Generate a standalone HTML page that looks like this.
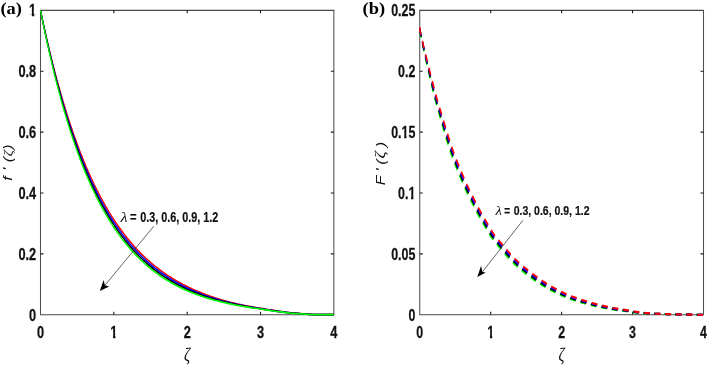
<!DOCTYPE html>
<html lang="en"><head><meta charset="utf-8"><title>Figure</title>
<style>html,body{margin:0;padding:0;background:#fff}svg{display:block}</style></head>
<body>
<svg width="708" height="366" viewBox="0 0 708 366">
<rect width="708" height="366" fill="#fff"/>
<defs><clipPath id="c1m"><path d="M-8 -15 H8 V-1.8 H1.95 V2 H-0.95 V-1.8 H-8 Z"/></clipPath><clipPath id="c1e"><path d="M-40 -15 H1 V-1.8 H-2.5 V2 H-5.4 V-1.8 H-8.9 V4 H-40 Z"/></clipPath><clipPath id="c1e2"><path d="M-40 -15 H1 V4 H-8.9 V-1.8 H-11.4 V2 H-14.3 V-1.8 H-17.8 V4 H-40 Z"/></clipPath></defs>
<g stroke="#3a3a3a" stroke-width="1.25" fill="none">
<path d="M40 10.3 H334.35 M40 314.75 H334.35" stroke="#484848" stroke-width="1.2"/>
<path d="M40.5 10.3 V314.75 M333.85 10.3 V314.75" stroke="#505050" stroke-width="1.05"/>
<path d="M113.84 314.75 v-3.0 M113.84 10.3 v3.0 M187.18 314.75 v-3.0 M187.18 10.3 v3.0 M260.51 314.75 v-3.0 M260.51 10.3 v3.0 M40.5 253.86 h3.0 M333.85 253.86 h-3.0 M40.5 192.97 h3.0 M333.85 192.97 h-3.0 M40.5 132.08 h3.0 M333.85 132.08 h-3.0 M40.5 71.19 h3.0 M333.85 71.19 h-3.0" stroke-width="1.1" stroke="#1a1a1a"/>
</g>
<g stroke="#3a3a3a" stroke-width="1.25" fill="none">
<path d="M419.25 10.3 H704 M419.25 314.75 H704" stroke="#484848" stroke-width="1.2"/>
<path d="M419.75 10.3 V314.75 M703.5 10.3 V314.75" stroke="#505050" stroke-width="1.05"/>
<path d="M490.69 314.75 v-3.0 M490.69 10.3 v3.0 M561.62 314.75 v-3.0 M561.62 10.3 v3.0 M632.56 314.75 v-3.0 M632.56 10.3 v3.0 M419.75 253.86 h3.0 M703.5 253.86 h-3.0 M419.75 192.97 h3.0 M703.5 192.97 h-3.0 M419.75 132.08 h3.0 M703.5 132.08 h-3.0 M419.75 71.19 h3.0 M703.5 71.19 h-3.0" stroke-width="1.1" stroke="#1a1a1a"/>
</g>
<g transform="translate(40.5,0) scale(0.778,1)" fill="none" stroke-width="1.65" stroke-linejoin="round">
<path d="M0 10.3 L2.36 18.94 L4.71 27.35 L7.07 35.51 L9.43 43.45 L11.78 51.16 L14.14 58.66 L16.5 65.94 L18.85 73.03 L21.21 79.91 L23.57 86.6 L25.92 93.1 L28.28 99.42 L30.64 105.56 L32.99 111.53 L35.35 117.33 L37.71 122.96 L40.06 128.44 L42.42 133.77 L44.78 138.94 L47.13 143.97 L49.49 148.86 L51.85 153.61 L54.2 158.23 L56.56 162.72 L58.92 167.08 L61.27 171.32 L63.63 175.44 L65.98 179.45 L68.34 183.34 L70.7 187.12 L73.05 190.8 L75.41 194.37 L77.77 197.84 L80.12 201.22 L82.48 204.5 L84.84 207.69 L87.19 210.79 L89.55 213.8 L91.91 216.73 L94.26 219.57 L96.62 222.34 L98.98 225.02 L101.33 227.63 L103.69 230.17 L106.05 232.64 L108.4 235.04 L110.76 237.37 L113.12 239.63 L115.47 241.83 L117.83 243.97 L120.19 246.05 L122.54 248.07 L124.9 250.04 L127.26 251.94 L129.61 253.8 L131.97 255.6 L134.33 257.35 L136.68 259.06 L139.04 260.71 L141.4 262.32 L143.75 263.89 L146.11 265.41 L148.47 266.88 L150.82 268.32 L153.18 269.71 L155.54 271.07 L157.89 272.39 L160.25 273.67 L162.61 274.91 L164.96 276.12 L167.32 277.3 L169.68 278.44 L172.03 279.55 L174.39 280.63 L176.75 281.68 L179.1 282.7 L181.46 283.69 L183.82 284.65 L186.17 285.59 L188.53 286.5 L190.88 287.41 L193.24 288.3 L195.6 289.16 L197.95 289.99 L200.31 290.8 L202.67 291.59 L205.02 292.36 L207.38 293.1 L209.74 293.82 L212.09 294.53 L214.45 295.21 L216.81 295.87 L219.16 296.51 L221.52 297.14 L223.88 297.74 L226.23 298.33 L228.59 298.9 L230.95 299.46 L233.3 300 L235.66 300.52 L238.02 301.03 L240.37 301.52 L242.73 302 L245.09 302.46 L247.44 302.91 L249.8 303.35 L252.16 303.78 L254.51 304.19 L256.87 304.59 L259.23 304.98 L261.58 305.35 L263.94 305.72 L266.3 306.07 L268.65 306.42 L271.01 306.75 L273.37 307.08 L275.72 307.39 L278.08 307.7 L280.44 307.99 L282.79 308.28 L285.15 308.61 L287.51 308.93 L289.86 309.24 L292.22 309.54 L294.58 309.84 L296.93 310.13 L299.29 310.41 L301.65 310.69 L304 310.96 L306.36 311.22 L308.72 311.48 L311.07 311.74 L313.43 311.98 L315.78 312.22 L318.14 312.46 L320.5 312.69 L322.85 312.86 L325.21 313.03 L327.57 313.19 L329.92 313.34 L332.28 313.49 L334.64 313.64 L336.99 313.78 L339.35 313.92 L341.71 314.05 L344.06 314.18 L346.42 314.31 L348.78 314.43 L351.13 314.55 L353.49 314.63 L355.85 314.63 L358.2 314.63 L360.56 314.63 L362.92 314.63 L365.27 314.63 L367.63 314.63 L369.99 314.63 L372.34 314.63 L374.7 314.63 L377.06 314.63" stroke="#ff0000"/>
<path d="M0 10.3 L2.36 19.16 L4.71 27.76 L7.07 36.12 L9.43 44.23 L11.78 52.11 L14.14 59.76 L16.5 67.2 L18.85 74.41 L21.21 81.43 L23.57 88.23 L25.92 94.84 L28.28 101.27 L30.64 107.5 L32.99 113.56 L35.35 119.44 L37.71 125.15 L40.06 130.7 L42.42 136.09 L44.78 141.32 L47.13 146.4 L49.49 151.34 L51.85 156.13 L54.2 160.78 L56.56 165.3 L58.92 169.7 L61.27 173.96 L63.63 178.1 L65.98 182.12 L68.34 186.03 L70.7 189.82 L73.05 193.5 L75.41 197.08 L77.77 200.55 L80.12 203.93 L82.48 207.2 L84.84 210.39 L87.19 213.48 L89.55 216.48 L91.91 219.39 L94.26 222.23 L96.62 224.97 L98.98 227.64 L101.33 230.24 L103.69 232.76 L106.05 235.2 L108.4 237.58 L110.76 239.88 L113.12 242.12 L115.47 244.3 L117.83 246.41 L120.19 248.47 L122.54 250.46 L124.9 252.39 L127.26 254.27 L129.61 256.1 L131.97 257.87 L134.33 259.59 L136.68 261.27 L139.04 262.89 L141.4 264.47 L143.75 266 L146.11 267.49 L148.47 268.93 L150.82 270.33 L153.18 271.7 L155.54 273.02 L157.89 274.3 L160.25 275.55 L162.61 276.76 L164.96 277.94 L167.32 279.09 L169.68 280.2 L172.03 281.27 L174.39 282.32 L176.75 283.34 L179.1 284.33 L181.46 285.28 L183.82 286.22 L186.17 287.12 L188.53 288 L190.88 288.86 L193.24 289.7 L195.6 290.51 L197.95 291.3 L200.31 292.07 L202.67 292.81 L205.02 293.53 L207.38 294.24 L209.74 294.92 L212.09 295.58 L214.45 296.22 L216.81 296.84 L219.16 297.45 L221.52 298.04 L223.88 298.61 L226.23 299.16 L228.59 299.7 L230.95 300.22 L233.3 300.73 L235.66 301.22 L238.02 301.7 L240.37 302.16 L242.73 302.61 L245.09 303.05 L247.44 303.48 L249.8 303.89 L252.16 304.29 L254.51 304.68 L256.87 305.05 L259.23 305.42 L261.58 305.77 L263.94 306.12 L266.3 306.45 L268.65 306.78 L271.01 307.09 L273.37 307.4 L275.72 307.7 L278.08 307.98 L280.44 308.26 L282.79 308.53 L285.15 308.85 L287.51 309.16 L289.86 309.47 L292.22 309.76 L294.58 310.05 L296.93 310.33 L299.29 310.61 L301.65 310.88 L304 311.14 L306.36 311.4 L308.72 311.65 L311.07 311.89 L313.43 312.13 L315.78 312.37 L318.14 312.6 L320.5 312.82 L322.85 312.98 L325.21 313.14 L327.57 313.3 L329.92 313.44 L332.28 313.59 L334.64 313.73 L336.99 313.87 L339.35 314 L341.71 314.13 L344.06 314.25 L346.42 314.37 L348.78 314.49 L351.13 314.61 L353.49 314.63 L355.85 314.63 L358.2 314.63 L360.56 314.63 L362.92 314.63 L365.27 314.63 L367.63 314.63 L369.99 314.63 L372.34 314.63 L374.7 314.63 L377.06 314.63" stroke="#0000ff"/>
<path d="M0 10.3 L2.36 19.37 L4.71 28.18 L7.07 36.72 L9.43 45.01 L11.78 53.06 L14.14 60.87 L16.5 68.45 L18.85 75.8 L21.21 82.94 L23.57 89.86 L25.92 96.58 L28.28 103.11 L30.64 109.44 L32.99 115.58 L35.35 121.54 L37.71 127.32 L40.06 132.94 L42.42 138.39 L44.78 143.67 L47.13 148.8 L49.49 153.78 L51.85 158.62 L54.2 163.3 L56.56 167.85 L58.92 172.27 L61.27 176.56 L63.63 180.72 L65.98 184.75 L68.34 188.67 L70.7 192.47 L73.05 196.16 L75.41 199.74 L77.77 203.21 L80.12 206.58 L82.48 209.85 L84.84 213.03 L87.19 216.11 L89.55 219.1 L91.91 222 L94.26 224.82 L96.62 227.55 L98.98 230.2 L101.33 232.77 L103.69 235.27 L106.05 237.7 L108.4 240.05 L110.76 242.33 L113.12 244.55 L115.47 246.69 L117.83 248.78 L120.19 250.81 L122.54 252.77 L124.9 254.68 L127.26 256.53 L129.61 258.32 L131.97 260.06 L134.33 261.75 L136.68 263.4 L139.04 264.99 L141.4 266.53 L143.75 268.03 L146.11 269.49 L148.47 270.9 L150.82 272.27 L153.18 273.6 L155.54 274.89 L157.89 276.14 L160.25 277.36 L162.61 278.54 L164.96 279.69 L167.32 280.8 L169.68 281.87 L172.03 282.92 L174.39 283.94 L176.75 284.92 L179.1 285.88 L181.46 286.81 L183.82 287.71 L186.17 288.58 L188.53 289.43 L190.88 290.24 L193.24 291.03 L195.6 291.8 L197.95 292.54 L200.31 293.27 L202.67 293.97 L205.02 294.65 L207.38 295.31 L209.74 295.95 L212.09 296.58 L214.45 297.18 L216.81 297.77 L219.16 298.34 L221.52 298.89 L223.88 299.43 L226.23 299.95 L228.59 300.45 L230.95 300.94 L233.3 301.42 L235.66 301.88 L238.02 302.33 L240.37 302.77 L242.73 303.19 L245.09 303.6 L247.44 304 L249.8 304.39 L252.16 304.77 L254.51 305.13 L256.87 305.49 L259.23 305.83 L261.58 306.17 L263.94 306.49 L266.3 306.81 L268.65 307.11 L271.01 307.41 L273.37 307.7 L275.72 307.98 L278.08 308.25 L280.44 308.52 L282.79 308.77 L285.15 309.08 L287.51 309.38 L289.86 309.68 L292.22 309.97 L294.58 310.25 L296.93 310.52 L299.29 310.79 L301.65 311.05 L304 311.31 L306.36 311.56 L308.72 311.8 L311.07 312.04 L313.43 312.27 L315.78 312.5 L318.14 312.72 L320.5 312.94 L322.85 313.1 L325.21 313.25 L327.57 313.4 L329.92 313.54 L332.28 313.68 L334.64 313.81 L336.99 313.94 L339.35 314.07 L341.71 314.19 L344.06 314.31 L346.42 314.43 L348.78 314.54 L351.13 314.63 L353.49 314.63 L355.85 314.63 L358.2 314.63 L360.56 314.63 L362.92 314.63 L365.27 314.63 L367.63 314.63 L369.99 314.63 L372.34 314.63 L374.7 314.63 L377.06 314.63" stroke="#000000"/>
<path d="M0 10.3 L2.36 19.59 L4.71 28.59 L7.07 37.33 L9.43 45.8 L11.78 54.01 L14.14 61.97 L16.5 69.69 L18.85 77.18 L21.21 84.44 L23.57 91.49 L25.92 98.31 L28.28 104.94 L30.64 111.36 L32.99 117.58 L35.35 123.62 L37.71 129.48 L40.06 135.16 L42.42 140.66 L44.78 146 L47.13 151.18 L49.49 156.2 L51.85 161.07 L54.2 165.79 L56.56 170.37 L58.92 174.81 L61.27 179.12 L63.63 183.29 L65.98 187.34 L68.34 191.27 L70.7 195.07 L73.05 198.76 L75.41 202.34 L77.77 205.82 L80.12 209.18 L82.48 212.45 L84.84 215.61 L87.19 218.68 L89.55 221.66 L91.91 224.55 L94.26 227.35 L96.62 230.06 L98.98 232.69 L101.33 235.25 L103.69 237.72 L106.05 240.12 L108.4 242.45 L110.76 244.71 L113.12 246.89 L115.47 249.02 L117.83 251.08 L120.19 253.07 L122.54 255.01 L124.9 256.88 L127.26 258.7 L129.61 260.47 L131.97 262.18 L134.33 263.84 L136.68 265.45 L139.04 267.01 L141.4 268.52 L143.75 269.99 L146.11 271.41 L148.47 272.79 L150.82 274.13 L153.18 275.43 L155.54 276.69 L157.89 277.91 L160.25 279.09 L162.61 280.24 L164.96 281.35 L167.32 282.43 L169.68 283.48 L172.03 284.49 L174.39 285.48 L176.75 286.43 L179.1 287.36 L181.46 288.25 L183.82 289.12 L186.17 289.97 L188.53 290.79 L190.88 291.55 L193.24 292.3 L195.6 293.02 L197.95 293.72 L200.31 294.41 L202.67 295.07 L205.02 295.71 L207.38 296.33 L209.74 296.93 L212.09 297.52 L214.45 298.09 L216.81 298.64 L219.16 299.17 L221.52 299.69 L223.88 300.2 L226.23 300.69 L228.59 301.16 L230.95 301.62 L233.3 302.07 L235.66 302.51 L238.02 302.93 L240.37 303.34 L242.73 303.74 L245.09 304.12 L247.44 304.5 L249.8 304.86 L252.16 305.22 L254.51 305.56 L256.87 305.89 L259.23 306.22 L261.58 306.53 L263.94 306.84 L266.3 307.14 L268.65 307.43 L271.01 307.71 L273.37 307.98 L275.72 308.24 L278.08 308.5 L280.44 308.75 L282.79 308.99 L285.15 309.29 L287.51 309.59 L289.86 309.87 L292.22 310.15 L294.58 310.43 L296.93 310.7 L299.29 310.96 L301.65 311.21 L304 311.46 L306.36 311.7 L308.72 311.94 L311.07 312.17 L313.43 312.4 L315.78 312.62 L318.14 312.84 L320.5 313.05 L322.85 313.2 L325.21 313.35 L327.57 313.49 L329.92 313.63 L332.28 313.76 L334.64 313.89 L336.99 314.02 L339.35 314.14 L341.71 314.26 L344.06 314.37 L346.42 314.48 L348.78 314.59 L351.13 314.63 L353.49 314.63 L355.85 314.63 L358.2 314.63 L360.56 314.63 L362.92 314.63 L365.27 314.63 L367.63 314.63 L369.99 314.63 L372.34 314.63 L374.7 314.63 L377.06 314.63" stroke="#00ff00"/>
</g>
<g transform="translate(419.75,0) scale(0.752,1)" fill="none" stroke-width="2.1" stroke-dasharray="7.7 6.4">
<path d="M0 27.3 L0.87 33.22 L1.75 36.04 L2.63 39.3 L3.5 42.98 L4.39 46.46 L5.27 49.77 L6.16 52.95 L7.05 56.03 L7.94 59.06 L8.83 62.06 L9.73 65.06 L10.62 68.07 L11.52 71.07 L12.42 74.06 L13.32 77.03 L14.22 79.97 L15.13 82.91 L16.03 85.83 L16.94 88.74 L17.85 91.61 L18.76 94.44 L19.68 97.19 L20.59 99.86 L21.51 102.45 L22.43 104.95 L23.35 107.39 L24.26 109.79 L25.18 112.19 L26.1 114.59 L27.01 117.03 L27.93 119.48 L28.85 121.94 L29.77 124.4 L30.7 126.86 L31.62 129.29 L32.55 131.7 L33.48 134.08 L34.4 136.43 L35.33 138.77 L36.26 141.08 L37.19 143.36 L38.12 145.61 L39.06 147.82 L39.99 149.98 L40.93 152.1 L41.87 154.16 L42.81 156.17 L43.75 158.12 L44.68 160.03 L45.62 161.91 L46.56 163.75 L47.5 165.57 L48.44 167.36 L49.38 169.13 L50.32 170.88 L51.26 172.61 L52.19 174.33 L53.13 176.02 L54.07 177.71 L55.01 179.39 L55.95 181.06 L56.89 182.71 L57.83 184.36 L58.78 185.99 L59.72 187.59 L60.67 189.17 L61.62 190.73 L62.56 192.25 L63.51 193.75 L64.46 195.23 L65.4 196.68 L66.35 198.11 L67.29 199.53 L68.23 200.95 L69.17 202.36 L70.12 203.77 L71.06 205.17 L72 206.58 L72.95 207.97 L73.89 209.36 L74.84 210.74 L75.79 212.1 L76.74 213.44 L77.69 214.76 L78.65 216.06 L79.6 217.34 L80.55 218.59 L81.5 219.83 L82.44 221.06 L83.39 222.27 L84.33 223.48 L85.27 224.7 L86.2 225.92 L87.14 227.16 L88.08 228.4 L89.03 229.65 L89.98 230.91 L90.93 232.15 L91.9 233.37 L92.86 234.56 L93.84 235.71 L94.82 236.81 L95.8 237.86 L96.77 238.87 L97.75 239.82 L98.72 240.74 L99.68 241.63 L100.64 242.5 L101.59 243.35 L102.54 244.2 L103.48 245.04 L104.42 245.88 L105.36 246.72 L106.3 247.57 L107.24 248.43 L108.18 249.29 L109.13 250.15 L110.08 251.01 L111.03 251.86 L111.98 252.72 L112.94 253.56 L113.89 254.39 L114.85 255.22 L115.8 256.03 L116.76 256.84 L117.71 257.64 L118.66 258.42 L119.62 259.2 L120.57 259.98 L121.53 260.74 L122.49 261.49 L123.45 262.24 L124.41 262.97 L125.37 263.69 L126.34 264.39 L127.3 265.07 L128.27 265.75 L129.23 266.41 L130.19 267.05 L131.15 267.68 L132.11 268.3 L133.06 268.92 L134.02 269.52 L134.97 270.12 L135.93 270.71 L136.88 271.29 L137.83 271.87 L138.78 272.45 L139.73 273.02 L140.68 273.59 L141.64 274.15 L142.6 274.7 L143.56 275.24 L144.52 275.79 L145.48 276.33 L146.44 276.86 L147.39 277.39 L148.35 277.91 L149.31 278.43 L150.27 278.94 L151.23 279.45 L152.19 279.96 L153.14 280.46 L154.1 280.95 L155.06 281.45 L156.02 281.94 L156.97 282.42 L157.93 282.9 L158.89 283.37 L159.85 283.84 L160.81 284.3 L161.78 284.76 L162.74 285.21 L163.7 285.65 L164.66 286.09 L165.62 286.52 L166.58 286.94 L167.54 287.36 L168.49 287.77 L169.45 288.18 L170.41 288.58 L171.37 288.98 L172.32 289.37 L173.28 289.76 L174.24 290.15 L175.19 290.53 L176.15 290.9 L177.1 291.28 L178.06 291.65 L179.02 292.01 L179.97 292.38 L180.93 292.74 L181.88 293.09 L182.84 293.45 L183.79 293.79 L184.75 294.14 L185.71 294.48 L186.67 294.81 L187.62 295.14 L188.58 295.46 L189.54 295.78 L190.49 296.09 L191.45 296.4 L192.41 296.71 L193.36 297.01 L194.32 297.3 L195.27 297.59 L196.23 297.88 L197.18 298.17 L198.14 298.44 L199.1 298.72 L200.06 298.98 L201.01 299.25 L201.97 299.5 L202.93 299.75 L203.89 299.99 L204.84 300.23 L205.8 300.46 L206.76 300.69 L207.71 300.91 L208.66 301.12 L209.62 301.34 L210.57 301.55 L211.52 301.75 L212.47 301.96 L213.42 302.16 L214.37 302.36 L215.32 302.56 L216.27 302.76 L217.22 302.96 L218.17 303.15 L219.12 303.35 L220.07 303.55 L221.02 303.75 L221.97 303.94 L222.92 304.14 L223.87 304.33 L224.82 304.52 L225.77 304.7 L226.72 304.89 L227.67 305.07 L228.63 305.25 L229.58 305.42 L230.53 305.59 L231.48 305.76 L232.43 305.93 L233.38 306.09 L234.33 306.25 L235.28 306.41 L236.23 306.56 L237.18 306.71 L238.13 306.86 L239.08 307.01 L240.03 307.16 L240.98 307.3 L241.93 307.45 L242.88 307.59 L243.83 307.73 L244.78 307.87 L245.73 308.01 L246.67 308.14 L247.62 308.28 L248.57 308.42 L249.52 308.55 L250.47 308.69 L251.42 308.82 L252.37 308.95 L253.32 309.07 L254.27 309.2 L255.22 309.32 L256.17 309.43 L257.12 309.55 L258.07 309.65 L259.02 309.76 L259.97 309.85 L260.92 309.95 L261.87 310.04 L262.82 310.12 L263.77 310.21 L264.72 310.29 L265.67 310.37 L266.61 310.45 L267.56 310.53 L268.51 310.62 L269.45 310.7 L270.4 310.79 L271.34 310.88 L272.29 310.97 L273.23 311.07 L274.18 311.17 L275.12 311.27 L276.07 311.38 L277.01 311.49 L277.96 311.61 L278.91 311.72 L279.85 311.83 L280.8 311.94 L281.75 312.05 L282.7 312.15 L283.65 312.25 L284.6 312.35 L285.55 312.44 L286.5 312.52 L287.45 312.6 L288.4 312.68 L289.34 312.76 L290.29 312.83 L291.24 312.89 L292.19 312.96 L293.13 313.03 L294.08 313.09 L295.03 313.15 L295.98 313.2 L296.92 313.26 L297.87 313.31 L298.82 313.36 L299.77 313.4 L300.71 313.44 L301.66 313.48 L302.61 313.52 L303.55 313.56 L304.5 313.6 L305.45 313.63 L306.39 313.66 L307.34 313.69 L308.29 313.72 L309.23 313.75 L310.18 313.77 L311.12 313.8 L312.07 313.82 L313.02 313.84 L313.96 313.86 L314.91 313.87 L315.86 313.89 L316.8 313.9 L317.75 313.91 L318.69 313.92 L319.64 313.93 L320.59 313.94 L321.53 313.96 L322.48 313.98 L323.42 313.99 L324.37 314.01 L325.31 314.03 L326.26 314.05 L327.21 314.07 L328.15 314.09 L329.1 314.11 L330.04 314.13 L330.99 314.15 L331.93 314.18 L332.88 314.2 L333.83 314.22 L334.77 314.24 L335.72 314.26 L336.66 314.28 L337.61 314.31 L338.55 314.33 L339.5 314.35 L340.45 314.37 L341.39 314.38 L342.34 314.4 L343.28 314.42 L344.23 314.43 L345.17 314.45 L346.12 314.46 L347.07 314.48 L348.01 314.49 L348.96 314.51 L349.9 314.52 L350.85 314.54 L351.79 314.55 L352.74 314.56 L353.69 314.57 L354.63 314.58 L355.58 314.59 L356.52 314.6 L357.47 314.61 L358.41 314.62 L359.36 314.63 L360.3 314.64 L361.25 314.65 L362.2 314.66 L363.14 314.66 L364.09 314.67 L365.03 314.68 L365.98 314.69 L366.92 314.69 L367.87 314.7 L368.82 314.71 L369.76 314.71 L370.71 314.72 L371.65 314.73 L372.6 314.73 L373.54 314.73 L374.49 314.74 L375.44 314.74 L376.38 314.75 L377.33 314.75" stroke="#00ff00" stroke-dashoffset="-3"/>
<path d="M0 27.3 L0.92 33.21 L1.84 36.01 L2.77 39.26 L3.69 42.93 L4.61 46.39 L5.54 49.69 L6.47 52.85 L7.39 55.92 L8.32 58.94 L9.25 61.93 L10.18 64.92 L11.11 67.92 L12.04 70.91 L12.97 73.89 L13.9 76.84 L14.83 79.78 L15.76 82.7 L16.69 85.62 L17.62 88.51 L18.56 91.38 L19.49 94.19 L20.43 96.93 L21.36 99.58 L22.3 102.15 L23.24 104.63 L24.17 107.06 L25.11 109.45 L26.04 111.84 L26.98 114.25 L27.92 116.67 L28.85 119.12 L29.79 121.58 L30.73 124.03 L31.67 126.48 L32.61 128.9 L33.55 131.3 L34.48 133.67 L35.42 136.02 L36.36 138.35 L37.3 140.65 L38.24 142.92 L39.19 145.16 L40.13 147.35 L41.07 149.5 L42.01 151.6 L42.96 153.65 L43.9 155.64 L44.84 157.58 L45.79 159.48 L46.73 161.34 L47.67 163.17 L48.62 164.98 L49.56 166.76 L50.5 168.52 L51.45 170.26 L52.39 171.98 L53.33 173.69 L54.28 175.38 L55.22 177.06 L56.16 178.73 L57.11 180.39 L58.05 182.04 L59 183.68 L59.94 185.3 L60.89 186.89 L61.83 188.46 L62.78 190.01 L63.72 191.52 L64.67 193.01 L65.62 194.47 L66.56 195.91 L67.51 197.34 L68.45 198.76 L69.4 200.17 L70.34 201.57 L71.29 202.98 L72.23 204.38 L73.17 205.78 L74.12 207.17 L75.07 208.56 L76.01 209.92 L76.96 211.28 L77.91 212.61 L78.85 213.91 L79.8 215.2 L80.75 216.47 L81.7 217.71 L82.64 218.94 L83.59 220.16 L84.54 221.38 L85.48 222.59 L86.42 223.81 L87.37 225.03 L88.31 226.27 L89.25 227.52 L90.2 228.76 L91.15 230.01 L92.09 231.24 L93.05 232.45 L94 233.62 L94.95 234.74 L95.91 235.81 L96.87 236.84 L97.82 237.82 L98.78 238.75 L99.73 239.66 L100.68 240.53 L101.63 241.39 L102.58 242.24 L103.53 243.08 L104.47 243.92 L105.42 244.76 L106.36 245.61 L107.3 246.46 L108.25 247.32 L109.19 248.18 L110.14 249.04 L111.09 249.89 L112.03 250.74 L112.98 251.59 L113.93 252.43 L114.88 253.26 L115.83 254.07 L116.78 254.88 L117.72 255.68 L118.67 256.47 L119.62 257.26 L120.57 258.03 L121.52 258.8 L122.47 259.55 L123.42 260.3 L124.37 261.04 L125.32 261.76 L126.27 262.46 L127.22 263.16 L128.18 263.84 L129.13 264.5 L130.08 265.15 L131.03 265.79 L131.98 266.41 L132.93 267.03 L133.88 267.63 L134.83 268.23 L135.78 268.83 L136.72 269.41 L137.67 269.99 L138.62 270.57 L139.57 271.15 L140.51 271.72 L141.46 272.28 L142.41 272.85 L143.36 273.4 L144.31 273.95 L145.26 274.5 L146.21 275.04 L147.16 275.58 L148.11 276.11 L149.06 276.64 L150.01 277.16 L150.96 277.68 L151.91 278.19 L152.86 278.7 L153.81 279.21 L154.76 279.71 L155.71 280.21 L156.66 280.7 L157.61 281.19 L158.56 281.67 L159.51 282.15 L160.46 282.62 L161.41 283.09 L162.36 283.55 L163.31 284 L164.26 284.45 L165.21 284.89 L166.17 285.32 L167.12 285.75 L168.07 286.17 L169.02 286.59 L169.97 287 L170.91 287.41 L171.86 287.82 L172.81 288.21 L173.76 288.61 L174.71 289 L175.66 289.39 L176.61 289.77 L177.56 290.15 L178.51 290.52 L179.46 290.9 L180.41 291.26 L181.36 291.63 L182.3 291.99 L183.25 292.35 L184.2 292.7 L185.15 293.05 L186.1 293.4 L187.05 293.74 L188 294.07 L188.95 294.4 L189.9 294.72 L190.85 295.04 L191.8 295.36 L192.75 295.67 L193.7 295.98 L194.65 296.28 L195.59 296.58 L196.54 296.87 L197.49 297.16 L198.44 297.44 L199.39 297.72 L200.34 298 L201.29 298.27 L202.24 298.53 L203.19 298.78 L204.14 299.03 L205.09 299.28 L206.04 299.51 L206.99 299.75 L207.94 299.97 L208.89 300.2 L209.83 300.42 L210.78 300.63 L211.73 300.84 L212.68 301.06 L213.62 301.27 L214.57 301.47 L215.52 301.68 L216.46 301.89 L217.41 302.1 L218.36 302.3 L219.3 302.51 L220.25 302.71 L221.2 302.92 L222.15 303.12 L223.09 303.32 L224.04 303.52 L224.99 303.72 L225.94 303.91 L226.88 304.1 L227.83 304.29 L228.78 304.48 L229.73 304.66 L230.67 304.84 L231.62 305.01 L232.57 305.19 L233.52 305.36 L234.46 305.52 L235.41 305.69 L236.36 305.85 L237.31 306.01 L238.25 306.17 L239.2 306.32 L240.15 306.48 L241.09 306.63 L242.04 306.78 L242.99 306.93 L243.93 307.08 L244.88 307.23 L245.83 307.37 L246.77 307.52 L247.72 307.67 L248.67 307.81 L249.61 307.95 L250.56 308.09 L251.51 308.23 L252.45 308.37 L253.4 308.51 L254.35 308.64 L255.3 308.76 L256.24 308.89 L257.19 309.01 L258.14 309.12 L259.09 309.23 L260.03 309.34 L260.98 309.44 L261.93 309.54 L262.87 309.63 L263.82 309.73 L264.77 309.82 L265.71 309.9 L266.66 309.99 L267.61 310.08 L268.55 310.17 L269.5 310.27 L270.44 310.36 L271.39 310.46 L272.33 310.56 L273.28 310.67 L274.22 310.77 L275.17 310.89 L276.11 311 L277.06 311.12 L278.01 311.24 L278.95 311.36 L279.9 311.48 L280.85 311.6 L281.79 311.72 L282.74 311.83 L283.69 311.94 L284.63 312.04 L285.58 312.14 L286.53 312.23 L287.47 312.32 L288.42 312.41 L289.37 312.49 L290.31 312.57 L291.26 312.64 L292.21 312.72 L293.15 312.79 L294.1 312.86 L295.04 312.93 L295.99 312.99 L296.94 313.05 L297.88 313.11 L298.83 313.17 L299.78 313.22 L300.72 313.27 L301.67 313.32 L302.61 313.37 L303.56 313.41 L304.51 313.46 L305.45 313.5 L306.4 313.54 L307.34 313.58 L308.29 313.61 L309.24 313.65 L310.18 313.68 L311.13 313.72 L312.07 313.75 L313.02 313.77 L313.97 313.8 L314.91 313.82 L315.86 313.85 L316.8 313.87 L317.75 313.89 L318.69 313.9 L319.64 313.92 L320.59 313.94 L321.53 313.96 L322.48 313.98 L323.42 313.99 L324.37 314.01 L325.31 314.03 L326.26 314.05 L327.21 314.07 L328.15 314.09 L329.1 314.11 L330.04 314.13 L330.99 314.15 L331.93 314.18 L332.88 314.2 L333.83 314.22 L334.77 314.24 L335.72 314.26 L336.66 314.28 L337.61 314.31 L338.55 314.33 L339.5 314.35 L340.45 314.37 L341.39 314.38 L342.34 314.4 L343.28 314.42 L344.23 314.43 L345.17 314.45 L346.12 314.46 L347.07 314.48 L348.01 314.49 L348.96 314.51 L349.9 314.52 L350.85 314.54 L351.79 314.55 L352.74 314.56 L353.69 314.57 L354.63 314.58 L355.58 314.59 L356.52 314.6 L357.47 314.61 L358.41 314.62 L359.36 314.63 L360.3 314.64 L361.25 314.65 L362.2 314.66 L363.14 314.66 L364.09 314.67 L365.03 314.68 L365.98 314.69 L366.92 314.69 L367.87 314.7 L368.82 314.71 L369.76 314.71 L370.71 314.72 L371.65 314.73 L372.6 314.73 L373.54 314.73 L374.49 314.74 L375.44 314.74 L376.38 314.75 L377.33 314.75" stroke="#000000" stroke-dashoffset="-2"/>
<path d="M0 27.3 L0.97 33.2 L1.94 35.98 L2.91 39.22 L3.88 42.88 L4.84 46.33 L5.81 49.61 L6.77 52.76 L7.74 55.82 L8.7 58.82 L9.66 61.79 L10.63 64.78 L11.59 67.76 L12.55 70.75 L13.51 73.71 L14.47 76.66 L15.43 79.58 L16.39 82.5 L17.35 85.4 L18.31 88.29 L19.27 91.14 L20.23 93.94 L21.18 96.66 L22.14 99.3 L23.09 101.85 L24.05 104.32 L25 106.73 L25.96 109.12 L26.91 111.5 L27.87 113.9 L28.82 116.32 L29.78 118.76 L30.73 121.22 L31.69 123.66 L32.64 126.1 L33.59 128.51 L34.54 130.9 L35.5 133.27 L36.45 135.6 L37.4 137.92 L38.35 140.21 L39.3 142.47 L40.25 144.7 L41.2 146.88 L42.15 149.02 L43.1 151.1 L44.05 153.13 L45 155.11 L45.94 157.04 L46.89 158.92 L47.84 160.77 L48.79 162.59 L49.74 164.39 L50.68 166.16 L51.63 167.91 L52.58 169.64 L53.53 171.36 L54.47 173.05 L55.42 174.74 L56.37 176.41 L57.32 178.08 L58.27 179.73 L59.21 181.37 L60.16 183 L61.11 184.61 L62.05 186.19 L63 187.75 L63.94 189.28 L64.89 190.78 L65.83 192.26 L66.78 193.71 L67.72 195.14 L68.67 196.56 L69.62 197.98 L70.56 199.38 L71.51 200.79 L72.46 202.19 L73.41 203.59 L74.35 204.98 L75.3 206.37 L76.24 207.74 L77.19 209.1 L78.13 210.44 L79.08 211.76 L80.02 213.06 L80.96 214.34 L81.91 215.59 L82.85 216.83 L83.8 218.05 L84.74 219.27 L85.69 220.48 L86.63 221.69 L87.58 222.91 L88.53 224.14 L89.48 225.38 L90.43 226.63 L91.37 227.87 L92.32 229.11 L93.26 230.33 L94.2 231.52 L95.14 232.67 L96.07 233.76 L97.01 234.81 L97.94 235.81 L98.88 236.76 L99.81 237.68 L100.75 238.57 L101.69 239.43 L102.63 240.28 L103.58 241.12 L104.52 241.96 L105.47 242.8 L106.42 243.64 L107.36 244.49 L108.31 245.35 L109.26 246.2 L110.2 247.06 L111.15 247.92 L112.09 248.77 L113.04 249.62 L113.98 250.46 L114.93 251.29 L115.87 252.11 L116.81 252.93 L117.75 253.73 L118.7 254.52 L119.64 255.31 L120.58 256.09 L121.52 256.85 L122.47 257.61 L123.41 258.37 L124.35 259.1 L125.29 259.83 L126.23 260.54 L127.17 261.24 L128.11 261.92 L129.05 262.59 L129.99 263.25 L130.93 263.89 L131.87 264.52 L132.81 265.14 L133.75 265.75 L134.69 266.35 L135.64 266.94 L136.58 267.53 L137.52 268.11 L138.47 268.69 L139.41 269.27 L140.36 269.84 L141.3 270.41 L142.24 270.98 L143.18 271.54 L144.13 272.1 L145.07 272.66 L146.01 273.21 L146.95 273.75 L147.89 274.29 L148.83 274.83 L149.77 275.36 L150.71 275.89 L151.66 276.41 L152.6 276.93 L153.54 277.44 L154.48 277.95 L155.42 278.46 L156.36 278.96 L157.31 279.46 L158.25 279.95 L159.19 280.44 L160.13 280.92 L161.07 281.4 L162.01 281.87 L162.95 282.33 L163.89 282.79 L164.83 283.24 L165.77 283.68 L166.71 284.12 L167.66 284.56 L168.6 284.98 L169.54 285.41 L170.48 285.82 L171.42 286.24 L172.36 286.65 L173.31 287.05 L174.25 287.45 L175.19 287.85 L176.13 288.24 L177.07 288.63 L178.02 289.01 L178.96 289.39 L179.9 289.77 L180.84 290.15 L181.79 290.52 L182.73 290.89 L183.67 291.25 L184.61 291.61 L185.55 291.97 L186.5 292.32 L187.44 292.66 L188.38 293 L189.32 293.34 L190.26 293.67 L191.21 293.99 L192.15 294.31 L193.09 294.63 L194.03 294.94 L194.98 295.25 L195.92 295.56 L196.86 295.86 L197.8 296.15 L198.74 296.44 L199.69 296.73 L200.63 297.01 L201.57 297.28 L202.51 297.55 L203.45 297.81 L204.39 298.07 L205.34 298.32 L206.28 298.56 L207.22 298.8 L208.16 299.03 L209.11 299.26 L210.05 299.49 L210.99 299.71 L211.94 299.94 L212.88 300.15 L213.82 300.37 L214.77 300.59 L215.71 300.8 L216.66 301.02 L217.6 301.23 L218.55 301.45 L219.49 301.66 L220.44 301.87 L221.38 302.08 L222.33 302.29 L223.27 302.5 L224.21 302.71 L225.16 302.91 L226.1 303.12 L227.04 303.32 L227.99 303.51 L228.93 303.71 L229.88 303.9 L230.82 304.08 L231.76 304.27 L232.71 304.45 L233.65 304.62 L234.59 304.8 L235.54 304.97 L236.48 305.14 L237.43 305.31 L238.37 305.47 L239.32 305.64 L240.26 305.8 L241.2 305.96 L242.15 306.12 L243.09 306.27 L244.04 306.43 L244.98 306.59 L245.93 306.74 L246.87 306.89 L247.82 307.05 L248.76 307.2 L249.71 307.35 L250.65 307.5 L251.6 307.65 L252.54 307.79 L253.48 307.93 L254.43 308.07 L255.37 308.21 L256.32 308.34 L257.26 308.47 L258.2 308.59 L259.15 308.71 L260.09 308.82 L261.04 308.93 L261.98 309.04 L262.92 309.14 L263.87 309.24 L264.81 309.34 L265.76 309.44 L266.71 309.53 L267.65 309.63 L268.6 309.73 L269.54 309.83 L270.49 309.93 L271.43 310.04 L272.38 310.15 L273.33 310.26 L274.27 310.38 L275.22 310.5 L276.16 310.63 L277.11 310.75 L278.05 310.88 L279 311.01 L279.94 311.14 L280.89 311.26 L281.83 311.39 L282.78 311.51 L283.72 311.62 L284.67 311.74 L285.61 311.84 L286.56 311.94 L287.5 312.04 L288.45 312.13 L289.39 312.22 L290.34 312.31 L291.28 312.39 L292.23 312.47 L293.17 312.55 L294.12 312.63 L295.06 312.71 L296.01 312.78 L296.95 312.85 L297.9 312.92 L298.84 312.98 L299.79 313.04 L300.73 313.1 L301.68 313.16 L302.62 313.21 L303.57 313.27 L304.51 313.32 L305.46 313.37 L306.4 313.42 L307.35 313.46 L308.29 313.51 L309.24 313.55 L310.19 313.59 L311.13 313.63 L312.08 313.67 L313.02 313.71 L313.97 313.74 L314.91 313.77 L315.86 313.8 L316.8 313.83 L317.75 313.86 L318.7 313.89 L319.64 313.91 L320.59 313.94 L321.53 313.96 L322.48 313.98 L323.42 313.99 L324.37 314.01 L325.31 314.03 L326.26 314.05 L327.21 314.07 L328.15 314.09 L329.1 314.11 L330.04 314.13 L330.99 314.15 L331.93 314.18 L332.88 314.2 L333.83 314.22 L334.77 314.24 L335.72 314.26 L336.66 314.28 L337.61 314.31 L338.55 314.33 L339.5 314.35 L340.45 314.37 L341.39 314.38 L342.34 314.4 L343.28 314.42 L344.23 314.43 L345.17 314.45 L346.12 314.46 L347.07 314.48 L348.01 314.49 L348.96 314.51 L349.9 314.52 L350.85 314.54 L351.79 314.55 L352.74 314.56 L353.69 314.57 L354.63 314.58 L355.58 314.59 L356.52 314.6 L357.47 314.61 L358.41 314.62 L359.36 314.63 L360.3 314.64 L361.25 314.65 L362.2 314.66 L363.14 314.66 L364.09 314.67 L365.03 314.68 L365.98 314.69 L366.92 314.69 L367.87 314.7 L368.82 314.71 L369.76 314.71 L370.71 314.72 L371.65 314.73 L372.6 314.73 L373.54 314.73 L374.49 314.74 L375.44 314.74 L376.38 314.75 L377.33 314.75" stroke="#0000ff" stroke-dashoffset="-1"/>
<path d="M0 27.3 L1.02 33.19 L2.03 35.95 L3.05 39.18 L4.06 42.83 L5.07 46.27 L6.08 49.53 L7.08 52.67 L8.08 55.71 L9.08 58.7 L10.08 61.66 L11.08 64.63 L12.07 67.61 L13.07 70.58 L14.06 73.54 L15.05 76.47 L16.04 79.39 L17.02 82.29 L18.01 85.19 L18.99 88.06 L19.98 90.9 L20.96 93.69 L21.93 96.4 L22.91 99.02 L23.88 101.55 L24.86 104.01 L25.83 106.41 L26.8 108.78 L27.78 111.16 L28.75 113.55 L29.73 115.97 L30.7 118.41 L31.67 120.85 L32.64 123.3 L33.61 125.72 L34.57 128.13 L35.54 130.51 L36.5 132.86 L37.47 135.19 L38.43 137.5 L39.39 139.78 L40.35 142.03 L41.31 144.24 L42.27 146.41 L43.23 148.54 L44.18 150.61 L45.14 152.62 L46.09 154.58 L47.04 156.49 L47.99 158.36 L48.95 160.2 L49.9 162.01 L50.85 163.8 L51.8 165.56 L52.76 167.3 L53.71 169.02 L54.66 170.73 L55.61 172.42 L56.57 174.1 L57.52 175.76 L58.47 177.42 L59.42 179.07 L60.37 180.7 L61.32 182.32 L62.27 183.92 L63.22 185.5 L64.16 187.04 L65.11 188.56 L66.05 190.05 L66.99 191.51 L67.94 192.95 L68.88 194.38 L69.83 195.79 L70.78 197.2 L71.73 198.6 L72.68 200 L73.63 201.4 L74.58 202.79 L75.53 204.18 L76.47 205.57 L77.42 206.93 L78.36 208.29 L79.3 209.62 L80.24 210.93 L81.18 212.21 L82.12 213.48 L83.06 214.72 L84 215.95 L84.94 217.16 L85.89 218.37 L86.84 219.58 L87.79 220.79 L88.74 222.02 L89.69 223.25 L90.64 224.49 L91.6 225.74 L92.54 226.98 L93.49 228.22 L94.42 229.43 L95.35 230.6 L96.27 231.72 L97.19 232.79 L98.1 233.81 L99.01 234.79 L99.93 235.72 L100.84 236.61 L101.77 237.48 L102.69 238.33 L103.63 239.17 L104.57 240.01 L105.51 240.84 L106.46 241.68 L107.41 242.53 L108.36 243.38 L109.32 244.23 L110.27 245.09 L111.21 245.95 L112.16 246.81 L113.1 247.66 L114.04 248.5 L114.98 249.34 L115.92 250.16 L116.85 250.98 L117.79 251.78 L118.73 252.58 L119.66 253.37 L120.6 254.15 L121.54 254.92 L122.48 255.68 L123.41 256.44 L124.35 257.18 L125.28 257.91 L126.21 258.63 L127.14 259.33 L128.07 260.02 L129 260.69 L129.92 261.35 L130.85 262 L131.78 262.63 L132.71 263.25 L133.64 263.87 L134.57 264.47 L135.51 265.07 L136.44 265.66 L137.38 266.24 L138.32 266.82 L139.26 267.4 L140.2 267.97 L141.14 268.54 L142.08 269.11 L143.02 269.67 L143.95 270.24 L144.89 270.81 L145.82 271.36 L146.75 271.92 L147.69 272.47 L148.62 273.01 L149.55 273.55 L150.48 274.09 L151.42 274.62 L152.35 275.15 L153.28 275.67 L154.22 276.19 L155.15 276.7 L156.08 277.21 L157.02 277.72 L157.95 278.22 L158.88 278.72 L159.82 279.21 L160.75 279.7 L161.68 280.18 L162.61 280.65 L163.54 281.12 L164.47 281.58 L165.4 282.04 L166.33 282.48 L167.26 282.93 L168.19 283.37 L169.13 283.8 L170.06 284.23 L170.99 284.65 L171.93 285.07 L172.86 285.48 L173.8 285.89 L174.73 286.3 L175.66 286.7 L176.6 287.1 L177.54 287.49 L178.47 287.88 L179.41 288.27 L180.34 288.65 L181.28 289.04 L182.22 289.41 L183.15 289.79 L184.09 290.16 L185.02 290.52 L185.96 290.88 L186.89 291.24 L187.82 291.59 L188.76 291.94 L189.69 292.28 L190.63 292.61 L191.56 292.94 L192.5 293.27 L193.43 293.59 L194.37 293.91 L195.3 294.23 L196.24 294.54 L197.18 294.85 L198.11 295.15 L199.04 295.44 L199.98 295.74 L200.91 296.02 L201.85 296.3 L202.78 296.58 L203.71 296.84 L204.65 297.11 L205.58 297.36 L206.52 297.61 L207.45 297.86 L208.39 298.1 L209.33 298.34 L210.27 298.57 L211.2 298.8 L212.14 299.03 L213.08 299.25 L214.03 299.48 L214.97 299.7 L215.91 299.93 L216.85 300.15 L217.79 300.37 L218.74 300.59 L219.68 300.81 L220.62 301.04 L221.56 301.25 L222.5 301.47 L223.44 301.69 L224.39 301.9 L225.33 302.12 L226.27 302.32 L227.21 302.53 L228.15 302.74 L229.08 302.94 L230.02 303.13 L230.96 303.33 L231.9 303.52 L232.84 303.71 L233.78 303.89 L234.72 304.07 L235.67 304.25 L236.61 304.43 L237.55 304.6 L238.49 304.78 L239.43 304.95 L240.37 305.12 L241.31 305.29 L242.26 305.45 L243.2 305.62 L244.14 305.78 L245.09 305.95 L246.03 306.11 L246.97 306.27 L247.91 306.43 L248.86 306.59 L249.8 306.75 L250.74 306.91 L251.68 307.06 L252.63 307.22 L253.57 307.37 L254.51 307.51 L255.45 307.66 L256.39 307.79 L257.33 307.93 L258.27 308.06 L259.21 308.19 L260.15 308.31 L261.09 308.42 L262.03 308.54 L262.98 308.65 L263.92 308.76 L264.86 308.86 L265.81 308.97 L266.75 309.07 L267.7 309.18 L268.64 309.29 L269.59 309.39 L270.53 309.5 L271.48 309.62 L272.43 309.74 L273.37 309.86 L274.32 309.99 L275.27 310.11 L276.21 310.25 L277.16 310.38 L278.1 310.52 L279.05 310.66 L279.99 310.79 L280.93 310.93 L281.88 311.06 L282.82 311.19 L283.76 311.31 L284.7 311.43 L285.64 311.54 L286.59 311.65 L287.53 311.76 L288.47 311.86 L289.41 311.95 L290.36 312.05 L291.3 312.14 L292.25 312.23 L293.19 312.32 L294.13 312.41 L295.08 312.49 L296.02 312.57 L296.96 312.65 L297.91 312.72 L298.85 312.79 L299.8 312.86 L300.74 312.93 L301.69 313 L302.63 313.06 L303.58 313.12 L304.52 313.18 L305.46 313.24 L306.41 313.29 L307.35 313.35 L308.3 313.4 L309.24 313.45 L310.19 313.5 L311.13 313.55 L312.08 313.6 L313.02 313.64 L313.97 313.68 L314.91 313.72 L315.86 313.76 L316.8 313.8 L317.75 313.84 L318.7 313.87 L319.64 313.9 L320.59 313.94 L321.53 313.96 L322.48 313.98 L323.42 313.99 L324.37 314.01 L325.31 314.03 L326.26 314.05 L327.21 314.07 L328.15 314.09 L329.1 314.11 L330.04 314.13 L330.99 314.15 L331.93 314.18 L332.88 314.2 L333.83 314.22 L334.77 314.24 L335.72 314.26 L336.66 314.28 L337.61 314.31 L338.55 314.33 L339.5 314.35 L340.45 314.37 L341.39 314.38 L342.34 314.4 L343.28 314.42 L344.23 314.43 L345.17 314.45 L346.12 314.46 L347.07 314.48 L348.01 314.49 L348.96 314.51 L349.9 314.52 L350.85 314.54 L351.79 314.55 L352.74 314.56 L353.69 314.57 L354.63 314.58 L355.58 314.59 L356.52 314.6 L357.47 314.61 L358.41 314.62 L359.36 314.63 L360.3 314.64 L361.25 314.65 L362.2 314.66 L363.14 314.66 L364.09 314.67 L365.03 314.68 L365.98 314.69 L366.92 314.69 L367.87 314.7 L368.82 314.71 L369.76 314.71 L370.71 314.72 L371.65 314.73 L372.6 314.73 L373.54 314.73 L374.49 314.74 L375.44 314.74 L376.38 314.75 L377.33 314.75" stroke="#ff0000" stroke-dashoffset="0"/>
</g>
<text transform="translate(40.5,337.7) scale(0.8,1)" font-family="'Liberation Sans', Arial, sans-serif" font-size="16" font-weight="bold" font-style="normal" text-anchor="middle" fill="#111" stroke="#111" stroke-width="0.25">0</text>
<text transform="translate(113.84,337.7) scale(0.8,1)" font-family="'Liberation Sans', Arial, sans-serif" font-size="16" font-weight="bold" font-style="normal" text-anchor="middle" fill="#111" stroke="#111" stroke-width="0.25" clip-path="url(#c1m)">1</text>
<text transform="translate(187.18,337.7) scale(0.8,1)" font-family="'Liberation Sans', Arial, sans-serif" font-size="16" font-weight="bold" font-style="normal" text-anchor="middle" fill="#111" stroke="#111" stroke-width="0.25">2</text>
<text transform="translate(260.51,337.7) scale(0.8,1)" font-family="'Liberation Sans', Arial, sans-serif" font-size="16" font-weight="bold" font-style="normal" text-anchor="middle" fill="#111" stroke="#111" stroke-width="0.25">3</text>
<text transform="translate(333.85,337.7) scale(0.8,1)" font-family="'Liberation Sans', Arial, sans-serif" font-size="16" font-weight="bold" font-style="normal" text-anchor="middle" fill="#111" stroke="#111" stroke-width="0.25">4</text>
<text transform="translate(419.75,337.7) scale(0.775,1)" font-family="'Liberation Sans', Arial, sans-serif" font-size="16" font-weight="bold" font-style="normal" text-anchor="middle" fill="#111" stroke="#111" stroke-width="0.25">0</text>
<text transform="translate(490.69,337.7) scale(0.775,1)" font-family="'Liberation Sans', Arial, sans-serif" font-size="16" font-weight="bold" font-style="normal" text-anchor="middle" fill="#111" stroke="#111" stroke-width="0.25" clip-path="url(#c1m)">1</text>
<text transform="translate(561.62,337.7) scale(0.775,1)" font-family="'Liberation Sans', Arial, sans-serif" font-size="16" font-weight="bold" font-style="normal" text-anchor="middle" fill="#111" stroke="#111" stroke-width="0.25">2</text>
<text transform="translate(632.56,337.7) scale(0.775,1)" font-family="'Liberation Sans', Arial, sans-serif" font-size="16" font-weight="bold" font-style="normal" text-anchor="middle" fill="#111" stroke="#111" stroke-width="0.25">3</text>
<text transform="translate(703.5,337.7) scale(0.775,1)" font-family="'Liberation Sans', Arial, sans-serif" font-size="16" font-weight="bold" font-style="normal" text-anchor="middle" fill="#111" stroke="#111" stroke-width="0.25">4</text>
<text transform="translate(36.2,320.55) scale(0.8,1)" font-family="'Liberation Sans', Arial, sans-serif" font-size="16" font-weight="bold" font-style="normal" text-anchor="end" fill="#111" stroke="#111" stroke-width="0.25">0</text>
<text transform="translate(36.2,259.66) scale(0.8,1)" font-family="'Liberation Sans', Arial, sans-serif" font-size="16" font-weight="bold" font-style="normal" text-anchor="end" fill="#111" stroke="#111" stroke-width="0.25">0.2</text>
<text transform="translate(36.2,198.77) scale(0.8,1)" font-family="'Liberation Sans', Arial, sans-serif" font-size="16" font-weight="bold" font-style="normal" text-anchor="end" fill="#111" stroke="#111" stroke-width="0.25">0.4</text>
<text transform="translate(36.2,137.88) scale(0.8,1)" font-family="'Liberation Sans', Arial, sans-serif" font-size="16" font-weight="bold" font-style="normal" text-anchor="end" fill="#111" stroke="#111" stroke-width="0.25">0.6</text>
<text transform="translate(36.2,76.99) scale(0.8,1)" font-family="'Liberation Sans', Arial, sans-serif" font-size="16" font-weight="bold" font-style="normal" text-anchor="end" fill="#111" stroke="#111" stroke-width="0.25">0.8</text>
<text transform="translate(36.2,16.1) scale(0.8,1)" font-family="'Liberation Sans', Arial, sans-serif" font-size="16" font-weight="bold" font-style="normal" text-anchor="end" fill="#111" stroke="#111" stroke-width="0.25" clip-path="url(#c1e)">1</text>
<text transform="translate(415.3,320.55) scale(0.775,1)" font-family="'Liberation Sans', Arial, sans-serif" font-size="16" font-weight="bold" font-style="normal" text-anchor="end" fill="#111" stroke="#111" stroke-width="0.25">0</text>
<text transform="translate(415.3,259.66) scale(0.775,1)" font-family="'Liberation Sans', Arial, sans-serif" font-size="16" font-weight="bold" font-style="normal" text-anchor="end" fill="#111" stroke="#111" stroke-width="0.25">0.05</text>
<text transform="translate(415.3,198.77) scale(0.775,1)" font-family="'Liberation Sans', Arial, sans-serif" font-size="16" font-weight="bold" font-style="normal" text-anchor="end" fill="#111" stroke="#111" stroke-width="0.25" clip-path="url(#c1e)">0.1</text>
<text transform="translate(415.3,137.88) scale(0.775,1)" font-family="'Liberation Sans', Arial, sans-serif" font-size="16" font-weight="bold" font-style="normal" text-anchor="end" fill="#111" stroke="#111" stroke-width="0.25" clip-path="url(#c1e2)">0.15</text>
<text transform="translate(415.3,76.99) scale(0.775,1)" font-family="'Liberation Sans', Arial, sans-serif" font-size="16" font-weight="bold" font-style="normal" text-anchor="end" fill="#111" stroke="#111" stroke-width="0.25">0.2</text>
<text transform="translate(415.3,16.1) scale(0.775,1)" font-family="'Liberation Sans', Arial, sans-serif" font-size="16" font-weight="bold" font-style="normal" text-anchor="end" fill="#111" stroke="#111" stroke-width="0.25">0.25</text>
<text transform="translate(0.4,13.9) scale(1.05,1)" font-family="'Liberation Serif', 'Times New Roman', serif" font-size="17.6" font-weight="bold" font-style="normal" text-anchor="start" fill="#000">(a)</text>
<text transform="translate(362.6,13.9) scale(1.05,1)" font-family="'Liberation Serif', 'Times New Roman', serif" font-size="17.6" font-weight="bold" font-style="normal" text-anchor="start" fill="#000">(b)</text>
<text transform="translate(187.2,361.2) scale(0.8,1)" font-family="'Liberation Serif', 'Times New Roman', serif" font-size="19" font-weight="normal" font-style="italic" text-anchor="middle" fill="#111">ζ</text>
<text transform="translate(561.6,361.2) scale(0.775,1)" font-family="'Liberation Serif', 'Times New Roman', serif" font-size="19" font-weight="normal" font-style="italic" text-anchor="middle" fill="#111">ζ</text>
<text transform="translate(11.5,162.6) rotate(-90) scale(1,0.8)" font-family="'Liberation Sans', Arial, sans-serif" font-size="16" font-weight="normal" font-style="italic" text-anchor="middle" fill="#111" textLength="36.4" lengthAdjust="spacing">f ' (<tspan font-family="'Liberation Serif', serif" font-size="15">ζ</tspan>)</text>
<text transform="translate(384.8,185.3) rotate(-90) scale(1,0.775)" font-family="'Liberation Sans', Arial, sans-serif" font-size="16" font-weight="normal" font-style="italic" text-anchor="start" fill="#111">F ' <tspan dx="-0.9">(</tspan><tspan font-family="'Liberation Serif', serif" font-size="18" dx="0.9">ζ</tspan><tspan dx="4.0">)</tspan></text>
<text transform="translate(120.9,221.7) scale(0.8,1)" font-family="'Liberation Sans', Arial, sans-serif" font-size="14" font-weight="bold" fill="#111" stroke="#111" stroke-width="0.2"><tspan x="-0.37" font-family="'Liberation Serif', serif" font-style="italic" font-weight="normal" font-size="14.5" stroke="none" textLength="8.87" lengthAdjust="spacingAndGlyphs">λ</tspan> <tspan x="11.37">= </tspan><tspan x="24.12" textLength="97.62" lengthAdjust="spacingAndGlyphs">0.3, 0.6, 0.9, 1.2</tspan></text>
<text transform="translate(495.9,215.2) scale(0.775,1)" font-family="'Liberation Sans', Arial, sans-serif" font-size="13" font-weight="bold" fill="#111" stroke="#111" stroke-width="0.2"><tspan x="-0.39" font-family="'Liberation Serif', serif" font-style="italic" font-weight="normal" font-size="13.5" stroke="none" textLength="8.19" lengthAdjust="spacingAndGlyphs">λ</tspan> <tspan x="10.84">= </tspan><tspan x="22.97" textLength="97.81" lengthAdjust="spacingAndGlyphs">0.3, 0.6, 0.9, 1.2</tspan></text>
<g stroke="#222" fill="#000"><line x1="153.7" y1="226.3" x2="104.9" y2="285.3" stroke-width="0.7"/><path d="M99.8 291.0 L103.6 279.9 L104.9 285.3 L109.2 286.4 Z" stroke="none"/></g>
<g stroke="#222" fill="#000"><line x1="522.9" y1="220.3" x2="482.4" y2="271.9" stroke-width="0.7"/><path d="M477.3 276.9 L481.1 265.7 L482.4 271.9 L485.8 272.5 Z" stroke="none"/></g>
</svg>
</body></html>
